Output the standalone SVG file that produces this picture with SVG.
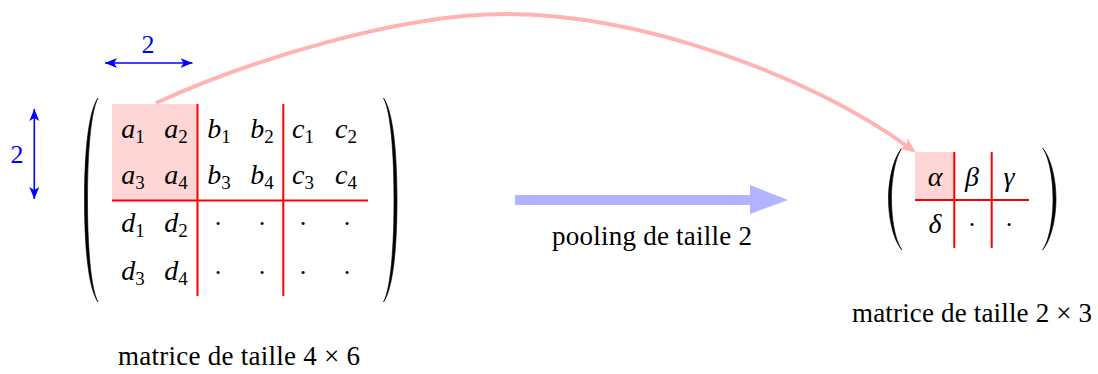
<svg xmlns="http://www.w3.org/2000/svg" width="1098" height="374" viewBox="0 0 1098 374">
<style>
.m{font-family:"Liberation Serif",serif;font-style:italic;font-size:28px;fill:#000;text-anchor:middle}
.sub{font-style:normal;font-size:19px}
.dot{font-family:"Liberation Serif",serif;font-size:26px;fill:#000;text-anchor:middle}
.cap{font-family:"Liberation Serif",serif;font-size:27px;fill:#000}
.dim{font-family:"Liberation Serif",serif;font-size:26px;fill:#0000ff;text-anchor:middle}
.grid{stroke:#ff0000;stroke-width:2;fill:none}
.pink{fill:#ffd6d6}
.paren{fill:#000;stroke:#000;stroke-width:0.6;stroke-linejoin:round}
.bluearrow{stroke:#0000ff;stroke-width:1.6;fill:none;marker-start:url(#bh);marker-end:url(#bh)}
</style>
<defs>
<marker id="bh" viewBox="-12 -6 14 12" refX="0" refY="0" markerWidth="14" markerHeight="12" markerUnits="userSpaceOnUse" orient="auto-start-reverse">
<path d="M0,0 L-12,-5 L-9,0 L-12,5 Z" fill="#0000ff"/>
</marker>
<marker id="ph" viewBox="-7 -7 17 14" refX="0" refY="0" markerWidth="17" markerHeight="14" markerUnits="userSpaceOnUse" orient="auto">
<path d="M-6,-6.5 L9,0 L-6,6.5 L-3,0 Z" fill="#ffb3b3"/>
</marker>
<path id="bigparen" d="M98,98 C88,112 84.5,155 84.5,200 C84.5,245 88,288 98,302 C90.5,288 87.5,245 87.5,200 C87.5,155 90.5,112 98,98 Z"/>
<path id="smallparen" d="M902,148 C894,157 888.5,178 888.5,199 C888.5,220 894,241 902,250 C895.5,241 891.5,220 891.5,199 C891.5,178 895.5,157 902,148 Z"/>
</defs>

<g id="matrix-left">
<rect class="pink" x="112" y="104" width="85.5" height="96"/>
<use href="#bigparen" class="paren"/>
<use href="#bigparen" class="paren" transform="translate(481.5,0) scale(-1,1)"/>
<path class="grid" d="M197.5,104 V296 M283.3,104 V296 M112,200.5 H368"/>
<text class="m" x="133" y="138">a<tspan class="sub" dy="5">1</tspan></text>
<text class="m" x="176" y="138">a<tspan class="sub" dy="5">2</tspan></text>
<text class="m" x="219" y="138">b<tspan class="sub" dy="5">1</tspan></text>
<text class="m" x="262" y="138">b<tspan class="sub" dy="5">2</tspan></text>
<text class="m" x="303" y="138">c<tspan class="sub" dy="5">1</tspan></text>
<text class="m" x="346" y="138">c<tspan class="sub" dy="5">2</tspan></text>
<text class="m" x="133" y="184">a<tspan class="sub" dy="5">3</tspan></text>
<text class="m" x="176" y="184">a<tspan class="sub" dy="5">4</tspan></text>
<text class="m" x="219" y="184">b<tspan class="sub" dy="5">3</tspan></text>
<text class="m" x="262" y="184">b<tspan class="sub" dy="5">4</tspan></text>
<text class="m" x="303" y="184">c<tspan class="sub" dy="5">3</tspan></text>
<text class="m" x="346" y="184">c<tspan class="sub" dy="5">4</tspan></text>
<text class="m" x="133" y="232">d<tspan class="sub" dy="5">1</tspan></text>
<text class="m" x="176" y="232">d<tspan class="sub" dy="5">2</tspan></text>
<text class="m" x="133" y="280">d<tspan class="sub" dy="5">3</tspan></text>
<text class="m" x="176" y="280">d<tspan class="sub" dy="5">4</tspan></text>
<text class="dot" x="218" y="232">·</text>
<text class="dot" x="262" y="232">·</text>
<text class="dot" x="303" y="232">·</text>
<text class="dot" x="347" y="232">·</text>
<text class="dot" x="218" y="281">·</text>
<text class="dot" x="262" y="281">·</text>
<text class="dot" x="303" y="281">·</text>
<text class="dot" x="347" y="281">·</text>
</g>

<g id="caption-left">
<text class="cap" x="118" y="365" textLength="242" lengthAdjust="spacing">matrice de taille 4 × 6</text>
</g>

<g id="dim-width">
<text class="dim" x="148" y="53">2</text>
</g>
<g id="dim-height">
<text class="dim" x="17" y="163">2</text>
</g>

<g id="matrix-right">
<rect class="pink" x="915" y="152" width="39.3" height="48"/>
<use href="#smallparen" class="paren"/>
<use href="#smallparen" class="paren" transform="translate(1944.5,0) scale(-1,1)"/>
<path class="grid" d="M954.3,152 V248 M991.7,152 V248 M915,200 H1029"/>
<text class="m" x="935" y="186">α</text>
<text class="m" x="972" y="186">β</text>
<text class="m" x="1009" y="186">γ</text>
<text class="m" x="935" y="233">δ</text>
<text class="dot" x="972" y="233">·</text>
<text class="dot" x="1009" y="233">·</text>
</g>

<g id="caption-right">
<text class="cap" x="852" y="322" textLength="240" lengthAdjust="spacing">matrice de taille 2 × 3</text>
</g>

<g id="pooling-label">
<text class="cap" x="552" y="245" textLength="200" lengthAdjust="spacing">pooling de taille 2</text>
</g>

<g id="connectors">
<path class="bluearrow" d="M105,63 H192.5"/>
<path class="bluearrow" d="M34.3,109 V199"/>
<path d="M156,103 C250,60 400,14 505,14 C640,14 810,75 908.6,147.3" fill="none" stroke="#ffb3b3" stroke-width="4" marker-end="url(#ph)"/>
<rect x="515" y="195" width="236" height="10" fill="#b3b3ff"/>
<polygon points="750,185 788,200 750,214" fill="#b3b3ff"/>
</g>
</svg>
